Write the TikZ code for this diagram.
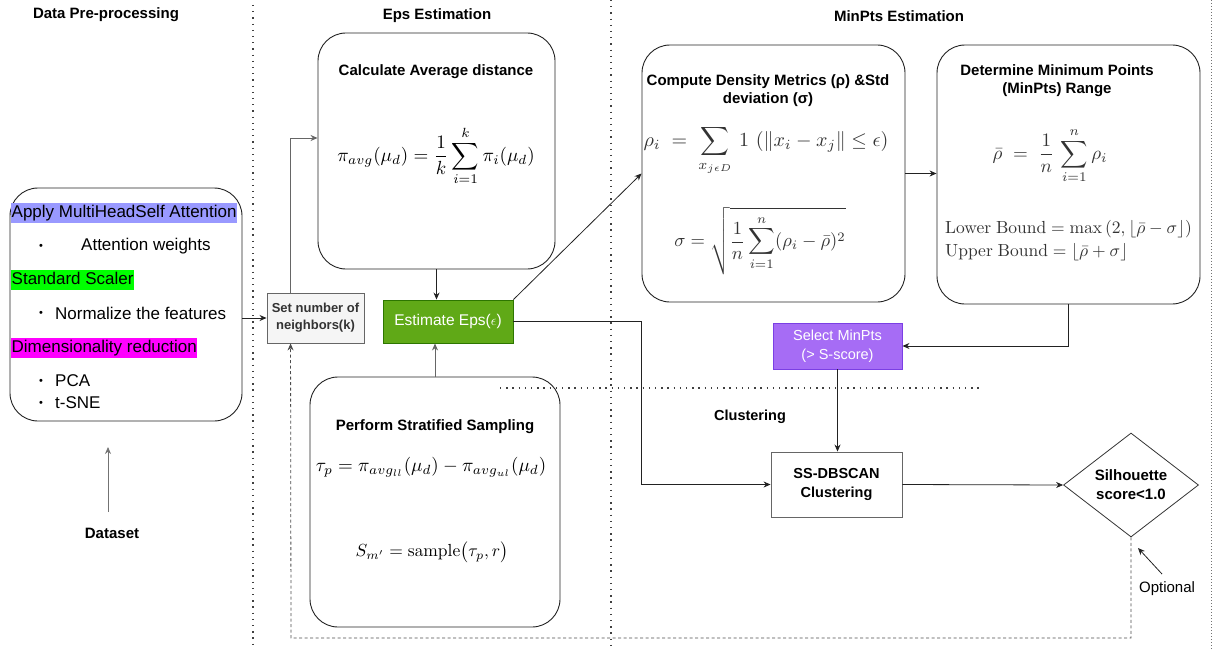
\documentclass[tikz,border=0pt]{standalone}
\usepackage{amsmath}
\usepackage[no-math]{fontspec}
\setmainfont{Liberation Sans}
\usetikzlibrary{arrows.meta,shapes.geometric}
\definecolor{epsgreen}{HTML}{60A917}
\definecolor{epsborder}{HTML}{2D7600}
\definecolor{selfill}{HTML}{A66CF5}
\definecolor{selborder}{HTML}{7B3FE4}
\definecolor{hlblue}{HTML}{9999FF}
\definecolor{hlgreen}{HTML}{00FF00}
\definecolor{hlmag}{HTML}{FF00FF}
\definecolor{setfill}{HTML}{F5F5F5}
\definecolor{setborder}{HTML}{666666}
\definecolor{linecol}{HTML}{222222}
\definecolor{mathgray}{HTML}{333333}
\begin{document}
\begin{tikzpicture}[x=1pt,y=-1pt,
  hdr/.style={font=\fontsize{15}{17}\selectfont\bfseries, inner sep=0pt},
  rbox/.style={draw=linecol, line width=0.9pt, rounded corners=28pt, inner sep=0pt},
  plainbox/.style={draw=setborder, line width=0.9pt, inner sep=0pt},
  ttl/.style={font=\fontsize{15}{18}\selectfont\bfseries, align=center, inner sep=0pt},
  mth/.style={inner sep=0pt, text=black},
  mthg/.style={inner sep=0pt, text=mathgray},
  ltxt/.style={font=\fontsize{17}{19}\selectfont, anchor=west, inner sep=0pt},
  hl/.style={ltxt, fill=#1, inner xsep=0.5pt, inner ysep=2pt, text height=12.5pt, text depth=3.5pt},
  bul/.style={font=\fontsize{11}{11}\selectfont, inner sep=0pt},
  conn/.style={draw=linecol, line width=0.8pt, -{Stealth[length=7pt,width=6pt]}},
  dashconn/.style={draw=black!70, line width=0.8pt, dash pattern=on 3pt off 2.5pt, -{Stealth[length=7pt,width=6pt]}},
  divider/.style={draw=black!75, line width=1.4pt, dash pattern=on 1.3pt off 4.9pt},
  finediv/.style={draw=black!55, line width=0.6pt, dash pattern=on 0.8pt off 2.2pt}
]
\useasboundingbox (0,0) rectangle (1215,650);

% dividers
\draw[divider] (253,5) -- (253,650);
\draw[divider] (611,0) -- (611,650);
\draw[finediv] (1211,0) -- (1211,650);
\draw[divider] (500,388) -- (982,388);

% headers
\node[hdr] (h1) at (106,15) {Data Pre-processing};
\node[hdr] (h2) at (437,16) {Eps Estimation};
\node[hdr] (h3) at (899,16) {MinPts Estimation};
\node[hdr, font=\fontsize{14.5}{17}\selectfont\bfseries] (h4) at (750,417) {Clustering};

% pre-processing box
\node[rbox, minimum width=232pt, minimum height=233pt] (pre) at (126,304.5) {};
\node[hl=hlblue] (t1) at (11,213) {Apply MultiHeadSelf Attention};
\node[bul] (b1) at (41,247) {•};
\node[ltxt] (t2) at (81,246) {Attention weights};
\node[hl=hlgreen] (t3) at (11,280) {Standard Scaler};
\node[bul] (b2) at (41,314) {•};
\node[ltxt] (t4) at (55,313) {Normalize the features};
\node[hl=hlmag] (t5) at (11,348) {Dimensionality reduction};
\node[bul] (b3) at (41,382) {•};
\node[ltxt] (t6) at (55,381) {PCA};
\node[bul] (b4) at (41,404) {•};
\node[ltxt] (t7) at (55,403) {t-SNE};

% dataset
\node[font=\fontsize{15}{17}\selectfont\bfseries, inner sep=0pt] (ds) at (112,533) {Dataset};
\coordinate (dsTail) at (108,512);
\coordinate (dsTip) at (108,447);
\draw[conn, draw=black!55] (dsTail) -- (dsTip);

% set number of neighbours
\node[plainbox, fill=setfill, minimum width=97pt, minimum height=50pt,
      font=\fontsize{13}{17}\selectfont\bfseries, text=black!80, align=center] (setk) at (315.5,318)
      {Set number of\\neighbors(k)};

% calculate average distance
\node[rbox, minimum width=237pt, minimum height=236pt] (calc) at (436.5,151) {};
\node[ttl] (calcT) at (436,72) {Calculate Average distance};
\node[mth] (calcF) at (436,156)
  {\scalebox{1.9}{$\displaystyle \pi_{avg}(\mu_d)=\frac{1}{k}\sum_{i=1}^{k}\pi_i(\mu_d)$}};

% estimate eps
\node[draw=epsborder, fill=epsgreen, line width=0.9pt, minimum width=130pt, minimum height=43pt,
      inner sep=0pt, text=white, font=\fontsize{15.5}{17}\selectfont] (eps) at (448,321.5) {Estimate Eps($\epsilon$)};

% stratified sampling
\node[rbox, minimum width=250pt, minimum height=250pt] (samp) at (435,502) {};
\node[ttl] (sampT) at (435,427) {Perform Stratified Sampling};
\node[mth] (sampF1) at (431,467)
  {\scalebox{1.9}{$\tau_p=\pi_{avg_{ll}}(\mu_d)-\pi_{avg_{ul}}(\mu_d)$}};
\node[mth] (sampF2) at (432,552)
  {\scalebox{1.75}{$S_{m'}=\mathrm{sample}\bigl(\tau_p,r\bigr)$}};

% density metrics
\node[rbox, minimum width=263pt, minimum height=257pt] (dens) at (773.5,173.5) {};
\node[ttl] (densT) at (768,91) {Compute Density Metrics (ρ) \&Std\\deviation (σ)};
\node[mthg] (densF1) at (766,150)
  {\scalebox{2.0}{$\displaystyle \rho_i\;=\;\sum_{x_{j\epsilon D}}\, 1\,\left(\|x_i-x_j\|\le\epsilon\right)$}};
\node[mthg] (densF2) at (760,241)
  {\scalebox{1.85}{$\displaystyle \sigma=\sqrt{\frac{1}{n}\sum_{i=1}^{n}(\rho_i-\bar{\rho})^2}$}};

% minimum points range
\node[rbox, minimum width=263pt, minimum height=259pt] (det) at (1068.5,174.5) {};
\node[ttl] (detT) at (1057,81) {Determine Minimum Points\\(MinPts) Range};
\node[mthg] (detF) at (1050,156)
  {\scalebox{1.9}{$\displaystyle \bar{\rho}\;=\;\frac{1}{n}\,\sum_{i=1}^{n}\rho_i$}};
\node[mthg, anchor=west] (detL) at (945,229)
  {\scalebox{1.75}{$\mathrm{Lower\ Bound}=\max\left(2,\lfloor\bar{\rho}-\sigma\rfloor\right)$}};
\node[mthg, anchor=west] (detU) at (945,252)
  {\scalebox{1.75}{$\mathrm{Upper\ Bound}=\lfloor\bar{\rho}+\sigma\rfloor$}};

% select minpts
\node[draw=selborder, fill=selfill, line width=0.9pt, minimum width=129pt, minimum height=46pt,
      inner sep=0pt, text=white, align=center, font=\fontsize{14.5}{19}\selectfont] (sel) at (837.5,346)
      {Select MinPts\\(> S-score)};

% ss-dbscan
\node[plainbox, fill=white, minimum width=131pt, minimum height=65pt, align=center,
      font=\fontsize{14.5}{19}\selectfont\bfseries] (ssdb) at (836.5,484.5) {SS-DBSCAN\\Clustering};

% silhouette diamond
\node[diamond, draw=black!80, line width=0.8pt, minimum width=135pt, minimum height=104pt, inner sep=0pt,
      align=center, font=\fontsize{15}{19}\selectfont\bfseries] (sil) at (1131,485) {Silhouette\\score<1.0};

% optional
\node[font=\fontsize{15}{17}\selectfont, inner sep=0pt] (opt) at (1167,589) {Optional};
\coordinate (optTail) at (1162,574);
\coordinate (optTip) at (1138,548);
\draw[conn] (optTail) -- (optTip);

% connectors
\draw[conn] (pre.east |- setk.west) -- (setk.west);
\draw[conn, draw=black!60] ([xshift=24pt]setk.north west) |- ([yshift=13pt]calc.west);
\draw[conn] (calc.south) -- (calc.south |- eps.north);
\draw[conn, draw=black!60] (samp.north) -- (samp.north |- eps.south);
\draw[conn] (eps.north east) -- (dens.west);
\draw[conn] (dens.east) -- (dens.east -| det.west);
\draw[conn] (det.south) |- (sel.east);
\draw[conn] (sel.south) -- (sel.south |- ssdb.north);
\draw[conn] (eps.east) -- ++(128,0) |- (ssdb.west);
\draw[conn] (ssdb.east) -- (sil.west);
\coordinate (lb) at (291,638);
\draw[dashconn] (sil.south) |- (lb) -- ([xshift=24pt]setk.south west);
\end{tikzpicture}
\end{document}
